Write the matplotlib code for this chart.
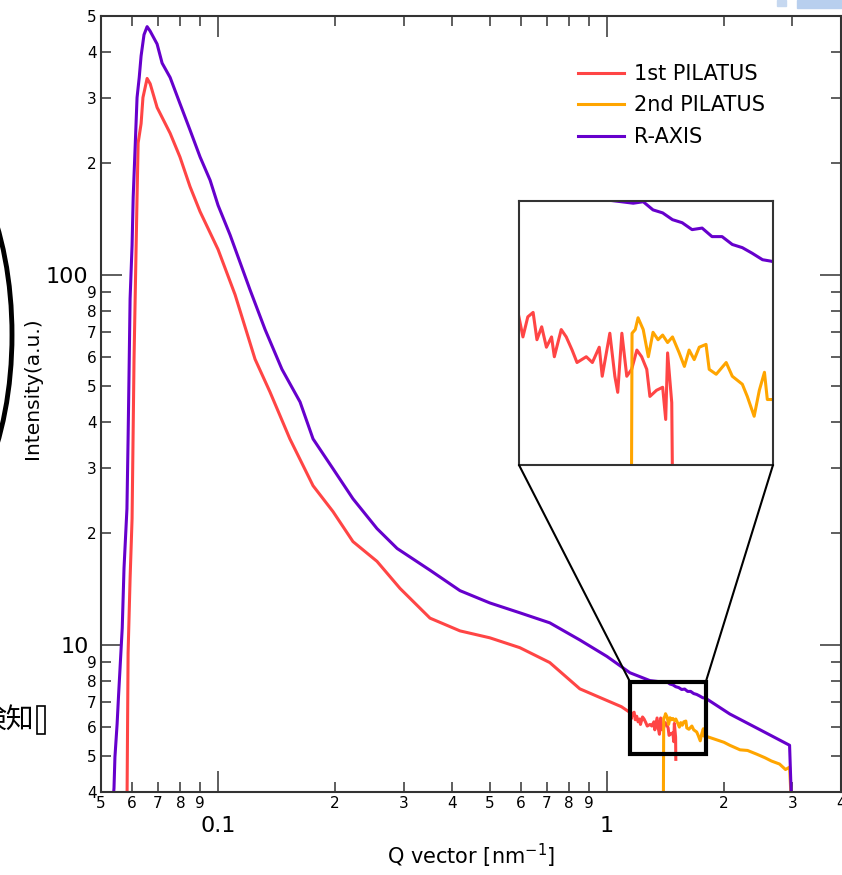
import matplotlib
matplotlib.use("Agg")
import matplotlib.pyplot as plt
from matplotlib.patches import Rectangle, Ellipse, ConnectionPatch

# 1st PILATUS
q_pil1 = [0.0583, 0.0587, 0.0594, 0.0601, 0.0608, 0.0612, 0.0619, 0.0623, 0.0634, 0.0641,
          0.0657, 0.0669, 0.0697, 0.0753, 0.0798, 0.0847, 0.0899, 0.1, 0.1106, 0.1245,
          0.136, 0.153, 0.1755, 0.1975, 0.2223, 0.2563, 0.2937, 0.3508, 0.419, 0.5,
          0.597, 0.713, 0.852, 0.96, 1.09,
          1.144, 1.154, 1.164, 1.175, 1.183, 1.193, 1.203, 1.214, 1.220, 1.235,
          1.246, 1.259, 1.270, 1.291, 1.305, 1.321, 1.328, 1.346, 1.358, 1.365,
          1.375, 1.387, 1.399, 1.412, 1.424, 1.437, 1.445, 1.462, 1.478, 1.486,
          1.491, 1.502, 1.504]
i_pil1 = [3.5, 9.5, 15.1, 21.9, 59.1, 85.7, 162, 227, 256, 301,
          339, 328, 283, 241, 208, 173, 148, 117, 88.3, 59.1,
          48.2, 36.0, 26.9, 22.9, 19.0, 16.8, 14.2, 11.8, 10.9, 10.44,
          9.82, 8.95, 7.6, 7.2, 6.8,
          6.57, 6.30, 6.52, 6.57, 6.27, 6.41, 6.19, 6.30, 6.09, 6.38,
          6.30, 6.16, 6.03, 6.09, 6.03, 6.19, 5.89, 6.34, 5.89, 5.73,
          6.34, 5.89, 5.96, 6.16, 6.09, 5.96, 5.69, 5.75, 5.78, 5.47,
          6.13, 5.63, 4.9]

# 2nd PILATUS
q_pil2 = [1.396, 1.400, 1.408, 1.415, 1.428, 1.441, 1.453, 1.466, 1.478, 1.491,
          1.504, 1.522, 1.536, 1.549, 1.563, 1.577, 1.596, 1.605, 1.625, 1.654,
          1.672, 1.702, 1.717, 1.738, 1.754, 1.770, 1.779, 1.797,
          1.9, 2.0, 2.07, 2.2, 2.3, 2.43, 2.55, 2.65, 2.78, 2.88, 2.95, 2.99]
i_pil2 = [3.0, 6.34, 6.38, 6.51, 6.38, 6.09, 6.35, 6.27, 6.32, 6.24,
          6.30, 6.13, 5.99, 6.16, 6.06, 6.19, 6.22, 5.96, 5.91, 6.03,
          5.89, 5.81, 5.69, 5.50, 5.75, 5.93, 5.66, 5.66,
          5.55, 5.45, 5.35, 5.2, 5.18, 5.06, 4.95, 4.85, 4.76, 4.6, 4.67, 3.5]

# R-AXIS
q_raxis = [0.0537, 0.054, 0.0543, 0.0550, 0.0555, 0.0567, 0.0573, 0.0583, 0.0587, 0.0590,
           0.0594, 0.0601, 0.0605, 0.0612, 0.0619, 0.0627, 0.0634, 0.0645, 0.0657, 0.0669,
           0.0697, 0.0718, 0.0753, 0.0798, 0.0847, 0.0899, 0.0954, 0.1, 0.1074, 0.1208,
           0.1321, 0.146, 0.1625, 0.1755, 0.1975, 0.2223, 0.2563, 0.2888, 0.3508, 0.419,
           0.5, 0.597, 0.713, 0.852, 1.0, 1.146, 1.29,
           1.403, 1.428, 1.453, 1.478, 1.504, 1.53, 1.557, 1.585, 1.613, 1.642,
           1.672, 1.702, 1.732, 1.764, 1.794,
           2.07, 2.47, 2.95, 2.99]
i_raxis = [3.8, 4.1, 4.97, 6.1, 7.35, 11.1, 16.1, 23.3, 36.0, 52,
           86, 120, 162, 221, 301, 341, 390, 445, 468, 455,
           420, 373, 341, 290, 246, 208, 180, 154, 128, 91.1,
           71.1, 55.5, 45.3, 36.0, 29.9, 24.8, 20.6, 18.2, 15.9, 14.0,
           12.97, 12.2, 11.46, 10.3, 9.3, 8.4, 8.0,
           7.92, 7.94, 7.83, 7.79, 7.70, 7.66, 7.57, 7.59, 7.48, 7.48,
           7.38, 7.34, 7.27, 7.19, 7.17,
           6.5, 5.9, 5.35, 3.5]

series = [("1st PILATUS", q_pil1, i_pil1, "#ff4545"),
          ("2nd PILATUS", q_pil2, i_pil2, "#ffa500"),
          ("R-AXIS", q_raxis, i_raxis, "#6600cc")]

x_major = [0.1, 1]
x_major_labels = ["0.1", "1"]
x_minor = [0.05, 0.06, 0.07, 0.08, 0.09, 0.2, 0.3, 0.4, 0.5, 0.6, 0.7, 0.8, 0.9, 2, 3, 4]
x_minor_labels = ["5", "6", "7", "8", "9", "2", "3", "4", "5", "6", "7", "8", "9", "2", "3", "4"]
y_major = [10, 100]
y_major_labels = ["10", "100"]
y_minor = [4, 5, 6, 7, 8, 9, 20, 30, 40, 50, 60, 70, 80, 90, 200, 300, 400, 500]
y_minor_labels = ["4", "5", "6", "7", "8", "9", "2", "3", "4", "5", "6", "7", "8", "9",
                  "2", "3", "4", "5"]

zoom_x = (1.146, 1.797)
zoom_y = (5.06, 7.95)

spine_col = "#333333"

fig = plt.figure(figsize=(8.42, 8.75), dpi=100)
ax = fig.add_axes([101 / 842, 83 / 875, 740 / 842, 776 / 875])

for name, q, i, c in series:
    ax.plot(q, i, color=c, lw=2.2, label=name)

ax.set_xscale("log")
ax.set_yscale("log")
ax.set_xlim(0.05, 4)
ax.set_ylim(4, 500)

ax.set_xticks(x_major)
ax.set_xticklabels(x_major_labels)
ax.set_xticks(x_minor, minor=True)
ax.set_xticklabels(x_minor_labels, minor=True)
ax.set_yticks(y_major)
ax.set_yticklabels(y_major_labels)
ax.set_yticks(y_minor, minor=True)
ax.set_yticklabels(y_minor_labels, minor=True)

ax.tick_params(which="both", direction="in", top=True, right=True, color=spine_col, width=1.1)
ax.tick_params(which="major", length=15)
ax.tick_params(which="minor", length=7)
ax.tick_params(axis="x", which="major", pad=17, labelsize=16)
ax.tick_params(axis="x", which="minor", pad=3, labelsize=11)
ax.tick_params(axis="y", which="major", pad=9, labelsize=16)
ax.tick_params(axis="y", which="minor", pad=3, labelsize=11)
for s in ax.spines.values():
    s.set_color(spine_col)
    s.set_linewidth(1.5)

leg = ax.legend(loc="upper left", bbox_to_anchor=((578 - 101) / 740, (792 - 64) / 776),
                frameon=False, fontsize=15, handlelength=2.2, handletextpad=0.5,
                labelspacing=0.55, borderpad=0, borderaxespad=0)

fig.text(33 / 842, 1 - 388 / 875, "Intensity(a.u.)", rotation=90, ha="center", va="center",
         fontsize=14.5)
fig.text(471 / 842, 1 - 856 / 875, "Q vector [nm$^{-1}$]", ha="center", va="center",
         fontsize=15)

# zoom box on main axes
ax.add_patch(Rectangle((zoom_x[0], zoom_y[0]), zoom_x[1] - zoom_x[0], zoom_y[1] - zoom_y[0],
                       fill=False, edgecolor="black", lw=3, zorder=5))

# inset
axin = fig.add_axes([519 / 842, 410 / 875, 254 / 842, 264 / 875])
for name, q, i, c in series:
    axin.plot(q, i, color=c, lw=2.2)
axin.set_xscale("log")
axin.set_yscale("log")
axin.set_xlim(*zoom_x)
axin.set_ylim(*zoom_y)
axin.set_xticks([])
axin.set_yticks([])
axin.minorticks_off()
for s in axin.spines.values():
    s.set_color(spine_col)
    s.set_linewidth(1.5)

for xa, xb in [(zoom_x[0], 0), (zoom_x[1], 1)]:
    con = ConnectionPatch(xyA=(xa, zoom_y[1]), coordsA=ax.transData,
                          xyB=(xb, 0), coordsB=axin.transAxes,
                          color="black", lw=1.5)
    fig.add_artist(con)

# bits of the surrounding screenshot
fig.add_artist(Ellipse((-80 / 842, 1 - 335 / 875), 184 / 842, 400 / 875, fill=False,
                       edgecolor="black", lw=3.5, transform=fig.transFigure))
fig.text(-22 / 842, 1 - 720 / 875, "検知", ha="left", va="center", fontsize=20,
         family=["Noto Sans CJK JP", "DejaVu Sans"])
fig.add_artist(Rectangle((37 / 842, 1 - 734 / 875), 8 / 842, 28 / 875, fill=False,
                         edgecolor="black", lw=1.2, transform=fig.transFigure))
fig.add_artist(Rectangle((777 / 842, 1 - 6 / 875), 9 / 842, 6 / 875, color="#c6d8f0",
                         transform=fig.transFigure))
fig.add_artist(Rectangle((797 / 842, 1 - 8 / 875), 45 / 842, 8 / 875, color="#b8cfee",
                         transform=fig.transFigure))

fig.savefig("out.png", dpi=100)
